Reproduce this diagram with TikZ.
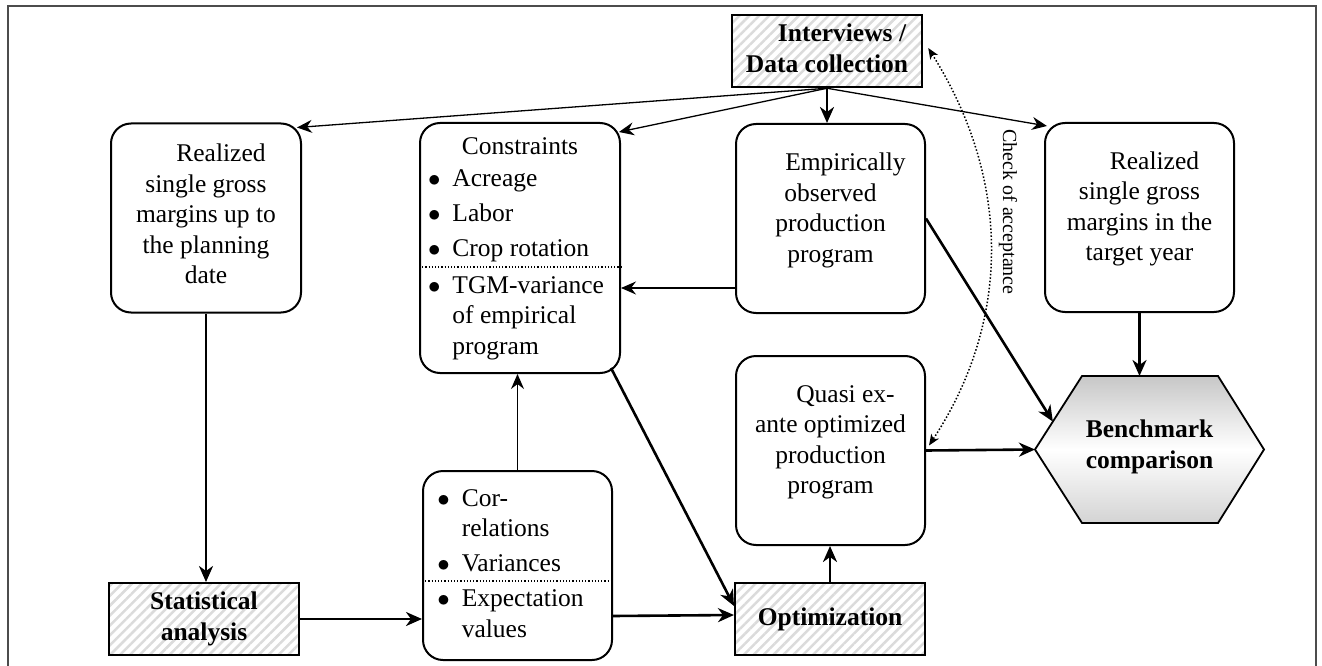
\documentclass[tikz,border=0pt]{standalone}
\usepackage{fontspec}
\setmainfont{Liberation Serif}
\usetikzlibrary{arrows.meta,calc,patterns.meta}
\newcommand{\blt}{$\bullet$}
\begin{document}
\begin{tikzpicture}[x=1pt,y=-1pt,
  font=\fontsize{25.5pt}{30.5pt}\selectfont,
  rbox/.style={draw,line width=2pt,rounded corners=20pt,minimum width=189pt,minimum height=189pt,inner sep=0pt},
  hbox/.style={draw,line width=2pt,pattern={Lines[angle=45,distance=7pt,line width=2.5pt]},pattern color=black!14,
    minimum width=190pt,minimum height=72pt,inner sep=0pt,font=\fontsize{25.5pt}{30.5pt}\selectfont\bfseries},
  tarrow/.style={line width=1.3pt,-{Stealth[length=15pt,width=13pt,inset=5pt]}},
  harrow/.style={line width=2.6pt,-{Stealth[length=16pt,width=14pt,inset=5pt]}},
  darrow/.style={line width=1.5pt,dotted,{Stealth[length=11pt,width=9pt,inset=3pt]}-{Stealth[length=11pt,width=9pt,inset=3pt]}}
]
\useasboundingbox (0,0) rectangle (1322,666);
% frame
\draw[line width=2pt,black!70] (8,670) -- (8,6) -- (1316,6) -- (1316,670);

% boxes
\node[hbox] (int) at (827,51) {\begin{tabular}{@{}c@{}}\hspace*{30pt}Interviews /\\Data collection\end{tabular}};

\node[rbox,minimum width=190pt,
  label={[yshift=1.5pt]center:\begin{tabular}{@{}c@{}}\hspace*{30pt}Realized\\single gross\\margins up to\\the planning\\date\end{tabular}}] (left) at (206,218) {};

\node[rbox,minimum width=200pt,minimum height=250pt] (cons) at (520,248)
  {\begin{tabular}{@{}l@{\hspace{12pt}}l@{\hspace{8pt}}}\multicolumn{2}{@{}c@{}}{Constraints}\\[1.5pt]
   \blt&Acreage\\[4.5pt]\blt&Labor\\[4.5pt]\blt&Crop rotation\\[6.5pt]
   \blt&TGM-variance\\&of empirical\\&program\end{tabular}};
\draw[dotted,line width=1.2pt] ($(cons.north west)+(0,145)$) -- ($(cons.north east)+(0,145)$);

\node[rbox,
  label={[yshift=8pt]center:\begin{tabular}{@{}c@{}}\hspace*{30pt}Empirically\\observed\\production\\program\end{tabular}}] (emp) at (830.5,218.5) {};

\node[rbox,
  label={[yshift=8.5pt]center:\begin{tabular}{@{}c@{}}\hspace*{30pt}Realized\\single gross\\margins in the\\target year\end{tabular}}] (tgt) at (1139.5,217.5) {};

\node[rbox,
  label={[yshift=8.5pt]center:\begin{tabular}{@{}c@{}}\hspace*{30pt}Quasi ex-\\ante optimized\\production\\program\end{tabular}}] (quasi) at (830.5,450.5) {};

\node[hbox] (stat) at (204,619) {\begin{tabular}{@{}c@{}}Statistical\\analysis\end{tabular}};

\node[rbox] (corr) at (517.5,565.5)
  {\begin{tabular}{@{}l@{\hspace{12pt}}l@{\hspace{14pt}}}\blt&Cor-\\&relations\\[4.5pt]
   \blt&Variances\\[4.5pt]\blt&Expectation\\&values\end{tabular}};
\draw[dotted,line width=1.2pt] ($(corr.north west)+(0,111)$) -- ($(corr.north east)+(0,111)$);

\node[hbox] (opt) at (830,619) {Optimization};

% hexagon
\coordinate (hw) at (1035,449.5);
\coordinate (hnw) at (1082,376);
\coordinate (hne) at (1218,376);
\coordinate (he) at (1264,449.5);
\coordinate (hse) at (1218,523);
\coordinate (hsw) at (1082,523);
\draw[line width=1.8pt,top color=black!22,bottom color=black!17,middle color=white]
  (hw) -- (hnw) -- (hne) -- (he) -- (hse) -- (hsw) -- cycle;
\node[inner sep=0pt,font=\fontsize{25.5pt}{30.5pt}\selectfont\bfseries] (bench) at (1149.5,447)
  {\begin{tabular}{@{}c@{}}Benchmark\\comparison\end{tabular}};

% connectors
\draw[tarrow] (int.south) -- ($(left.north east)+(-5,5)$);
\draw[tarrow] (int.south) -- ($(cons.north east)+(-2,10)$);
\draw[tarrow] (int.south) -- ($(tgt.north west)+(3,4)$);
\draw[harrow] (int.south) -- (int.south |- emp.north);
\draw[tarrow] ($(emp.south west)+(0,-26)$) -- ($(cons.south east)+(0,-86)$);
\draw[tarrow] (corr.north) -- (corr.north |- cons.south);
\draw[harrow] (left.south) -- (left.south |- stat.north);
\draw[harrow] (stat.east) -- (stat.east -| corr.west);
\draw[harrow] ($(corr.south east)+(0,-45)$) -- ($(opt.west)+(0,-4)$);
\draw[harrow] ($(cons.south east)+(-10,-6)$) -- ($(opt.west)+(0,-13)$);
\draw[harrow] (opt.north) -- (opt.north |- quasi.south);
\draw[harrow] (quasi.east) -- (hw);
\draw[harrow] (emp.east) -- ($(hw)!0.38!(hnw)$);
\draw[harrow] (tgt.south) -- (tgt.south |- hnw);
\draw[darrow] ($(int.east)+(5,-3)$) .. controls +(83,132) and +(82,-125) .. ($(quasi.east)+(3,-5)$);
\node[rotate=-90,font=\fontsize{20pt}{24pt}\selectfont,inner sep=0pt] (chk) at (1008,212) {Check of acceptance};
\end{tikzpicture}
\end{document}
